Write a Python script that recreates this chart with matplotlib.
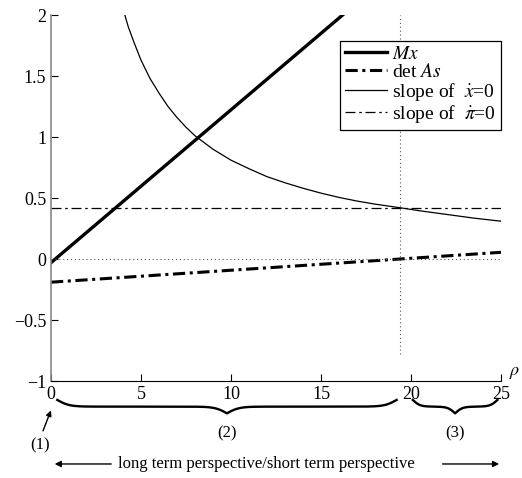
import numpy as np
import matplotlib
matplotlib.use("Agg")
import matplotlib.pyplot as plt

plt.rcParams["font.family"] = ["Liberation Serif", "DejaVu Serif"]
plt.rcParams["mathtext.fontset"] = "stix"

# data
mx_x = [0.0, 16.2]
mx_y = [-0.03, 2.0]

det_x = [0.0, 25.0]
det_y = [-0.19, 0.055]

xdot_x = [4.1, 4.3, 4.6, 5.0, 5.5, 6.0, 6.5, 7.0, 7.5, 8.0, 9.0, 10.0, 11.0, 12.0, 13.0,
          14.0, 15.0, 16.0, 17.0, 18.0, 19.4, 20.5, 22.0, 23.5, 25.0]
xdot_y = [2.0, 1.9, 1.78, 1.63, 1.48, 1.36, 1.25, 1.16, 1.08, 1.01, 0.90, 0.81, 0.74, 0.675, 0.625,
          0.58, 0.54, 0.505, 0.475, 0.45, 0.42, 0.395, 0.365, 0.335, 0.31]

pidot_x = [0.0, 25.0]
pidot_y = [0.42, 0.42]

rho_star = 19.4
xticks = [0, 5, 10, 15, 20, 25]
yticks = [-1, -0.5, 0, 0.5, 1, 1.5, 2]
ytick_labels = ["\u22121", "\u22120.5", "0", "0.5", "1", "1.5", "2"]


def brace(ax, x0, x1, ytop, h, beta=3.0):
    xs = np.linspace(x0, x1, 401)
    half = xs[:201]
    yh = 1 / (1 + np.exp(-beta * (half - half[0]))) + 1 / (1 + np.exp(-beta * (half - half[-1])))
    yh = yh - 0.5
    yy = np.concatenate([yh, yh[-2::-1]])
    ax.plot(xs, ytop - h * yy, color="black", lw=1.7, clip_on=False)


fig = plt.figure(figsize=(5.22, 4.78), dpi=100)
ax = fig.add_axes([0.0977, 0.2029, 0.8621, 0.7657])

ax.plot(mx_x, mx_y, color="black", lw=2.4, label=r"$Mx$")
ax.plot(det_x, det_y, color="black", lw=2.2, dashes=(4, 1.5, 1, 1.5), label=r"det $As$")
ax.plot(xdot_x, xdot_y, color="black", lw=0.9, label=r"slope of  $\dot{x}$=0")
ax.plot(pidot_x, pidot_y, color="black", lw=0.9, dashes=(8, 3, 2, 3), label=r"slope of  $\dot{\pi}$=0")

ax.plot([0, 25], [0, 0], color="#555555", lw=0.8, linestyle=(0, (1, 2.5)))
ax.plot([rho_star, rho_star], [-0.78, 2.0], color="#555555", lw=0.8, linestyle=(0, (1, 2.5)))

ax.set_xlim(0, 25)
ax.set_ylim(-1, 2)
ax.set_xticks(xticks)
ax.set_yticks(yticks)
ax.set_yticklabels(ytick_labels)
ax.tick_params(direction="in", labelsize=13, length=5, width=0.8)
ax.spines["top"].set_visible(False)
ax.spines["right"].set_visible(False)
ax.spines["left"].set_color("#888888")
ax.spines["left"].set_linewidth(1.2)

leg = ax.legend(loc="upper right", bbox_to_anchor=(1.0, 0.93), borderaxespad=0,
                fancybox=False, framealpha=1, edgecolor="black", fontsize=14,
                handlelength=2.2, labelspacing=0.0, borderpad=0.25, handletextpad=0.25)
leg.get_frame().set_linewidth(0.9)

ax.text(25.45, -0.93, r"$\rho$", fontsize=13, ha="left", va="center", clip_on=False)

# braces and notes under the axis
brace(ax, 0.35, 19.2, -1.155, 0.11)
brace(ax, 20.1, 24.8, -1.155, 0.11, beta=5.0)
ax.text(9.8, -1.43, "(2)", fontsize=12, ha="center", va="center")
ax.text(22.45, -1.43, "(3)", fontsize=12, ha="center", va="center")
ax.text(-0.6, -1.53, "(1)", fontsize=12, ha="center", va="center")
ax.annotate("", xy=(0.05, -1.22), xytext=(-0.5, -1.43),
            arrowprops=dict(arrowstyle="-|>", color="black", lw=1.0, mutation_scale=8),
            annotation_clip=False)

ax.text(11.95, -1.68, "long term perspective/short term perspective", fontsize=12,
        ha="center", va="center")
ax.annotate("", xy=(0.05, -1.68), xytext=(3.5, -1.68),
            arrowprops=dict(arrowstyle="-|>", color="black", lw=1.0, mutation_scale=9),
            annotation_clip=False)
ax.annotate("", xy=(25.05, -1.68), xytext=(21.6, -1.68),
            arrowprops=dict(arrowstyle="-|>", color="black", lw=1.0, mutation_scale=9),
            annotation_clip=False)

fig.savefig("out.png", dpi=100)
